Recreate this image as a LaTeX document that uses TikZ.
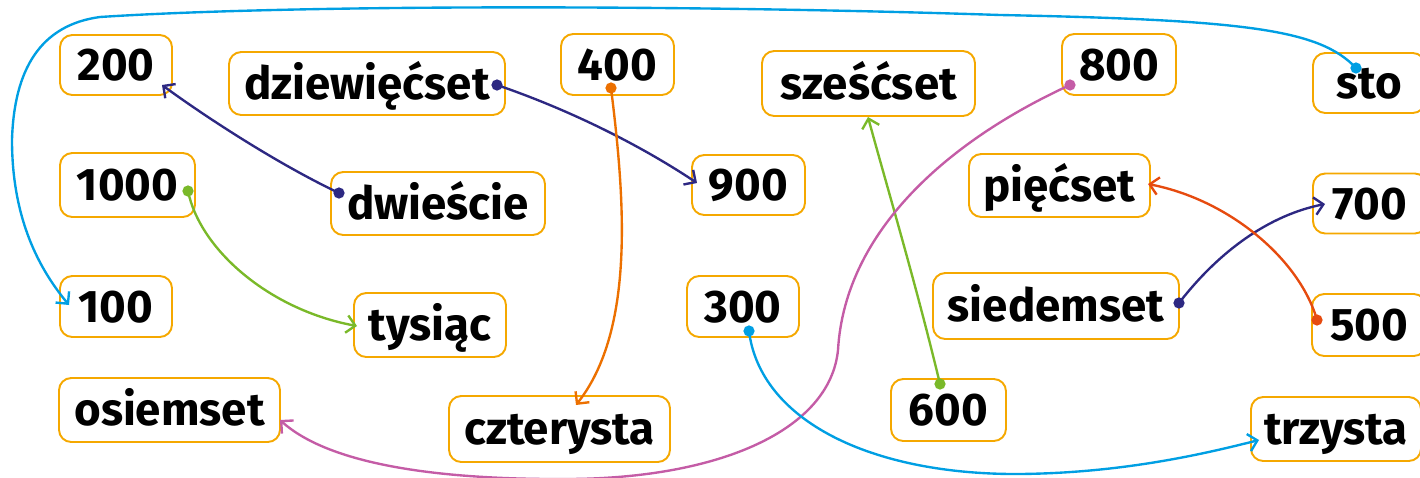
\documentclass[tikz,border=0pt]{standalone}
\usepackage{fontspec}
\setmainfont{Fira Sans}
\usetikzlibrary{arrows.meta}
\definecolor{boxor}{RGB}{245,168,0}
\definecolor{cblue}{RGB}{0,159,227}
\definecolor{cind}{RGB}{45,40,130}
\definecolor{cgreen}{RGB}{122,185,41}
\definecolor{corange}{RGB}{236,112,0}
\definecolor{cred}{RGB}{230,75,15}
\definecolor{cpink}{RGB}{196,92,166}
\begin{document}
\begin{tikzpicture}[x=0.02cm,y=-0.02cm,
  lbl/.style={draw=boxor, line width=1.1pt, rounded corners=7pt,
    font=\fontsize{26}{30}\selectfont\bfseries, text height=18pt, text depth=0pt, inner sep=0pt},
  sz/.style 2 args={minimum width=#1*0.02cm, minimum height=#2*0.02cm},
  con/.style={line width=1.35pt, -{Straight Barb[length=5pt,width=10pt]}}]
\useasboundingbox (0,0) rectangle (1420,477);
% boxes
\node[lbl,sz={112}{60}] (n200) at (116,65) {200};
\node[lbl,sz={276}{63}] (dz) at (367,83.5) {dziewięćset};
\node[lbl,sz={113}{61}] (n400) at (617.5,64.5) {400};
\node[lbl,sz={213}{65}] (szs) at (868.5,83.5) {sześćset};
\node[lbl,sz={114}{61}] (n800) at (1119,64.5) {800};
\node[lbl,sz={112}{60}] (sto) at (1369,83) {sto};
\node[lbl,sz={135}{64}] (n1000) at (127.5,185) {1000};
\node[lbl,sz={214}{63}] (dw) at (438,203.5) {dwieście};
\node[lbl,sz={113}{60}] (n900) at (748.5,185) {900};
\node[lbl,sz={181}{63}] (pc) at (1059.5,185.5) {pięćset};
\node[lbl,sz={114}{60}] (n700) at (1370,203.5) {700};
\node[lbl,sz={112}{61}] (n100) at (116,306.5) {100};
\node[lbl,sz={152}{64}] (ty) at (430,325) {tysiąc};
\node[lbl,sz={112}{61}] (n300) at (743,306.5) {300};
\node[lbl,sz={246}{66}] (sd) at (1056,306) {siedemset};
\node[lbl,sz={114}{62}] (n500) at (1369,325) {500};
\node[lbl,sz={221}{64}] (os) at (169.5,410) {osiemset};
\node[lbl,sz={221}{66}] (cz) at (559.5,429) {czterysta};
\node[lbl,sz={115}{62}] (n600) at (948.5,410) {600};
\node[lbl,sz={170}{64}] (tr) at (1336,429) {trzysta};
% connector ends
\coordinate (stoD) at ([shift={(-13,-15)}]sto.center);
\coordinate (n100T) at ([shift={(-47,-1.5)}]n100.center);
\coordinate (dwD) at ([shift={(-99,-10.5)}]dw.center);
\coordinate (n200T) at ([shift={(46,20)}]n200.center);
\coordinate (dzD) at ([shift={(130,1.5)}]dz.center);
\coordinate (n900T) at ([shift={(-51.5,-2)}]n900.center);
\coordinate (n400D) at ([shift={(-6.5,23.5)}]n400.center);
\coordinate (czT) at ([shift={(16.5,-24)}]cz.center);
\coordinate (n1000D) at ([shift={(60.5,6)}]n1000.center);
\coordinate (tyT) at ([shift={(-73,1)}]ty.center);
\coordinate (n600D) at ([shift={(-8.5,-26)}]n600.center);
\coordinate (szsT) at ([shift={(-0.5,33.5)}]szs.center);
\coordinate (n800D) at ([shift={(-49,20.5)}]n800.center);
\coordinate (osT) at ([shift={(110.5,10)}]os.center);
\coordinate (n300D) at ([shift={(6,24.5)}]n300.center);
\coordinate (trT) at ([shift={(-77,11)}]tr.center);
\coordinate (sdD) at ([shift={(123,-3)}]sd.center);
\coordinate (n700T) at ([shift={(-45,0.5)}]n700.center);
\coordinate (n500D) at ([shift={(-52,-5)}]n500.center);
\coordinate (pcT) at ([shift={(88.5,-1.5)}]pc.center);
% connectors
\draw[con,cblue] (stoD) .. controls (1320,30) and (1250,20) .. (1000,15)
  .. controls (700,5) and (300,4) .. (100,17)
  .. controls (40,25) and (14,70) .. (12,140)
  .. controls (12,220) and (40,270) .. (n100T);
\fill[cblue] (stoD) circle (3.2pt);
\draw[con,cind] (dwD) .. controls (280,165) and (210,120) .. (n200T);
\fill[cind] (dwD) circle (3.2pt);
\draw[con,cind] (dzD) .. controls (570,110) and (640,145) .. (n900T);
\fill[cind] (dzD) circle (3.2pt);
\draw[con,corange] (n400D) .. controls (625,200) and (635,330) .. (czT);
\fill[corange] (n400D) circle (3.2pt);
\draw[con,cgreen] (n1000D) .. controls (200,250) and (270,310) .. (tyT);
\fill[cgreen] (n1000D) circle (3.2pt);
\draw[con,cgreen] (n600D) .. controls (915,280) and (885,180) .. (szsT);
\fill[cgreen] (n600D) circle (3.2pt);
\draw[con,cpink] (n800D) .. controls (950,140) and (845,230) .. (838,350)
  .. controls (830,430) and (720,478) .. (570,479)
  .. controls (440,480) and (330,465) .. (osT);
\fill[cpink] (n800D) circle (3.2pt);
\draw[con,cblue] (n300D) .. controls (760,420) and (870,475) .. (1020,474)
  .. controls (1120,473) and (1200,455) .. (trT);
\fill[cblue] (n300D) circle (3.2pt);
\draw[con,cind] (sdD) .. controls (1220,250) and (1270,215) .. (n700T);
\fill[cind] (sdD) circle (3.2pt);
\draw[con,cred] (n500D) .. controls (1300,260) and (1230,200) .. (pcT);
\fill[cred] (n500D) circle (3.2pt);
\end{tikzpicture}
\end{document}
